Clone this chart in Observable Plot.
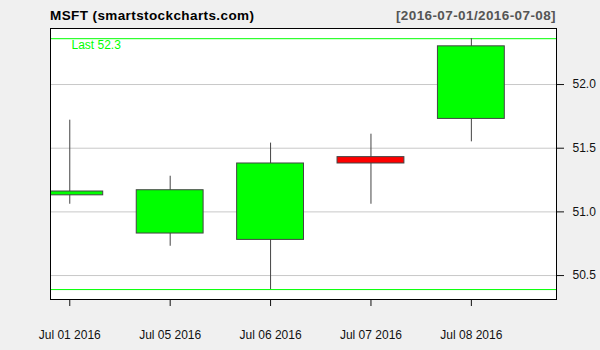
<!DOCTYPE html>
<html><head><meta charset="utf-8">
<script src="https://cdn.jsdelivr.net/npm/d3@7"></script>
<script src="https://cdn.jsdelivr.net/npm/@observablehq/plot@0.6"></script>
<style>
html,body{margin:0;padding:0;background:#f0f0f0;}
#wrap{position:relative;width:600px;height:350px;font-family:"Liberation Sans",Arial,sans-serif;}
#wrap svg{position:absolute;left:0;top:0;}
.t{position:absolute;font-weight:bold;font-size:13.5px;letter-spacing:0.4px;line-height:1;top:8.6px;white-space:nowrap;}
</style></head><body>
<div id="wrap"></div>
<script>
const dates = ["Jul 01 2016","Jul 05 2016","Jul 06 2016","Jul 07 2016","Jul 08 2016"];
const open  = [51.13, 50.83, 50.78, 51.43, 51.73];
const high  = [51.72, 51.28, 51.54, 51.61, 52.36];
const low   = [51.06, 50.73, 50.39, 51.06, 51.55];
const close = [51.16, 51.17, 51.38, 51.38, 52.30];
const yTicks = [50.5, 51.0, 51.5, 52.0];
const title = "MSFT (smartstockcharts.com)";
const rangeLabel = "[2016-07-01/2016-07-08]";
const lastLabel = "Last 52.3";

const data = dates.map((d, i) => ({i, d, o: open[i], h: high[i], l: low[i], c: close[i]}));
const hi = d3.max(high), lo = d3.min(low);

const chart = Plot.plot({
  width: 600, height: 350,
  marginLeft: 50, marginRight: 44, marginTop: 28, marginBottom: 51,
  style: {background: "#f0f0f0", fontFamily: "Liberation Sans, Arial, sans-serif", fontSize: "12px", color: "#111"},
  x: {type: "linear", domain: [-0.192, 4.848]},
  y: {domain: [50.312, 52.44]},
  color: {type: "identity"},
  marks: [
    Plot.frame({fill: "white"}),
    Plot.gridY(yTicks, {stroke: "#c8c8c8", strokeOpacity: 1}),
    Plot.ruleY([hi, lo], {stroke: "#00ff00", strokeWidth: 1}),
    Plot.ruleX(data, {x: "i", y1: "l", y2: "h", stroke: "#444"}),
    Plot.rect(data, {x1: d => d.i - 0.333, x2: d => d.i + 0.333, y1: "o", y2: "c",
      fill: d => d.c >= d.o ? "#00ff00" : "#ff0000", stroke: "#444", clip: true}),
    Plot.text([lastLabel], {text: d => d, frameAnchor: "top-left", dx: 21, dy: 11.5, fill: "#00ff00", textAnchor: "start", fontSize: 12}),
    Plot.axisY(yTicks, {anchor: "right", tickSize: 7, tickPadding: 9, tickFormat: d => d.toFixed(1), label: null}),
    Plot.axisX(d3.range(dates.length), {anchor: "bottom", tickSize: 7, tickPadding: 24, tickFormat: i => dates[i], label: null}),
    Plot.frame({stroke: "black"})
  ]
});
const wrap = document.getElementById("wrap");
wrap.appendChild(chart);
const t1 = document.createElement("div");
t1.className = "t"; t1.style.left = "50px"; t1.style.color = "#000"; t1.textContent = title;
const t2 = document.createElement("div");
t2.className = "t"; t2.style.right = "44px"; t2.style.color = "#555"; t2.textContent = rangeLabel;
wrap.appendChild(t1); wrap.appendChild(t2);
</script>
</body></html>
